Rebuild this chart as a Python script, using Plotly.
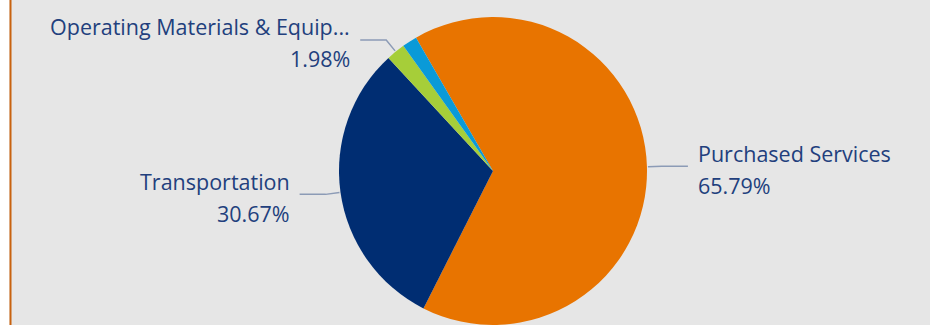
import math
import plotly.graph_objects as go

# ---- data ----
categories = ["Purchased Services", "Transportation", "Operating Materials & Equip...", "Other"]
values = [65.79, 30.67, 1.98, 1.56]
colors = ["#E87400", "#002D72", "#A6CE39", "#0A9AD8"]
show_label = [True, True, True, False]

W, H = 930, 325
ROT = -30  # degrees clockwise from 12 o'clock where first slice starts

# pie geometry (pixels)
cx, cy = 493, 171
top_px = 17
r_px = cy - top_px

fig = go.Figure()
fig.add_trace(go.Pie(
    labels=categories,
    values=values,
    sort=False,
    direction="clockwise",
    rotation=ROT,
    marker=dict(colors=colors, line=dict(width=0)),
    textinfo="none",
    textposition="none",
    hoverinfo="label+percent",
    showlegend=False,
    domain=dict(x=[(cx - 200) / W, (cx + 200) / W], y=[0, 1 - top_px / H]),
))

def px2paper(x, y):
    return x / W, 1 - y / H

text_color = "#223F7D"
line_color = "#8C9BB6"
font_family = "Open Sans, Noto Sans, sans-serif"
fs = 21.5

shapes = []
annotations = []
total = sum(values)
start = ROT
for cat, v, show in zip(categories, values, show_label):
    span = 360 * v / total
    mid = math.radians(start + span / 2)
    start += span
    if not show:
        continue
    dx, dy = math.sin(mid), -math.cos(mid)
    ex, ey = cx + (r_px + 1) * dx, cy + (r_px + 1) * dy
    bx, by = cx + (r_px + 15) * dx, cy + (r_px + 15) * dy
    side = 1 if dx >= 0 else -1
    hx = bx + side * 26
    path = "M {} {} L {} {} L {} {}".format(*px2paper(ex, ey), *px2paper(bx, by), *px2paper(hx, by))
    shapes.append(dict(type="path", xref="paper", yref="paper", path=path,
                       line=dict(color=line_color, width=1.5)))
    tx = hx + side * 8
    anchor = "left" if side > 0 else "right"
    pct = "{:.2f}%".format(100 * v / total)
    for txt, off in ((cat, -13), (pct, 19)):
        x_p, y_p = px2paper(tx, by + off)
        annotations.append(dict(x=x_p, y=y_p, xref="paper", yref="paper", text=txt,
                                showarrow=False, xanchor=anchor, yanchor="middle", align=anchor,
                                font=dict(family=font_family, size=fs, color=text_color)))

# left white strip and orange border line
shapes.append(dict(type="rect", xref="paper", yref="paper", x0=0, x1=9.5 / W, y0=0, y1=1,
                   fillcolor="white", line=dict(width=0), layer="below"))
shapes.append(dict(type="line", xref="paper", yref="paper", x0=10.5 / W, x1=10.5 / W, y0=0, y1=1,
                   line=dict(color="#C8620F", width=2)))

fig.update_layout(
    width=W, height=H,
    margin=dict(l=0, r=0, t=0, b=0),
    paper_bgcolor="#E6E6E6",
    plot_bgcolor="#E6E6E6",
    shapes=shapes,
    annotations=annotations,
)

fig.write_html("out.html")
